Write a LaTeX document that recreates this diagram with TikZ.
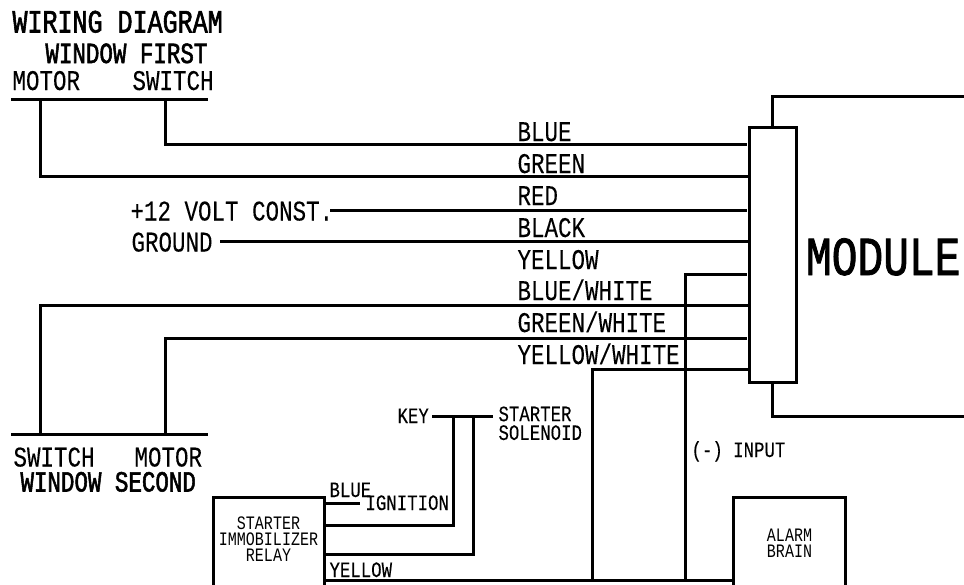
\documentclass[tikz,border=0pt]{standalone}
\usepackage{fontspec}
\usetikzlibrary{positioning}
\newfontfamily\wirefont[FakeStretch=0.79,FakeBold=0.15]{Liberation Mono}
\newfontfamily\tinyfont[FakeStretch=0.79]{Liberation Mono}
\newfontfamily\wirebold[FakeStretch=0.77,FakeBold=1.8]{Liberation Mono}
\newfontfamily\modfont[FakeStretch=0.78,FakeBold=1.4]{Liberation Mono}

\begin{document}
\begin{tikzpicture}[
            x = 1pt,
            y = -1pt,
            line width = 3pt, % wire weight
            line cap = butt,
            inner sep = 0pt
        ]

        \tikzstyle{lbl}=[
            anchor = base west,
            font = \wirefont\fontsize{28.5}{30}\selectfont
        ]
        \tikzstyle{small}=[
            anchor = base west,
            font = \wirefont\fontsize{22}{24}\selectfont
        ]
        \tikzstyle{title}=[
            anchor = base west,
            font = \wirebold\fontsize{29.2}{30}\selectfont
        ]
        \tikzstyle{tiny}=[
            align = center,
            font = \tinyfont\fontsize{19}{16}\selectfont
        ]
        \tikzstyle{box}=[
            draw = black,
            fill = white,
            outer sep = 0pt,
            minimum width = 111pt
        ]
        \tikzstyle{gapwire}=[
            shorten > = 1.8pt % don't touch the plug
        ]

        \useasboundingbox (0,0) rectangle (964,584);

        % boxes
        \node[box, minimum width = 47pt, minimum height = 254.5pt] (plug) at (772.5,254.8) {};
        \node[box, minimum height = 90pt] (relay) at (268.5,542) {};
        \node[tiny] (relaytext) at (268.5,539.5) {STARTER\\IMMOBILIZER\\RELAY};
        \node[box, tiny, minimum width = 112pt, minimum height = 92pt] (brain) at (789.5,543) {ALARM\\BRAIN};

        % free ends
        \coordinate (modtop) at (966,96.5);
        \coordinate (modbot) at (966,416.5);
        \coordinate (firstL) at (11,99.5);
        \coordinate (firstR) at (208,99.5);
        \coordinate (secondL) at (11,434.5);
        \coordinate (secondR) at (208,434.5);
        \coordinate (firstM) at (40,99.5);
        \coordinate (firstS) at (165,99.5);
        \coordinate (secondS) at (40,434.5);
        \coordinate (secondM) at (165,434.5);
        \coordinate (keyL) at (432,416.5);
        \coordinate (keyR) at (493,416.5);
        \coordinate (keyA) at (453.5,416.5);
        \coordinate (keyB) at (473.5,416.5);
        \coordinate (wBlue) at (165,144.5);
        \coordinate (wGreen) at (40,176.5);
        \coordinate (wRed) at (330,210.5);
        \coordinate (wBlack) at (220,241.5);
        \coordinate (wYellow) at (685,274.5);
        \coordinate (wBlueW) at (40,305.5);
        \coordinate (wGreenW) at (165,338.5);
        \coordinate (wYellowW) at (592,369.5);
        \coordinate (bus) at (592.5,580.5);
        \coordinate (busB) at (685.5,580.5);
        \coordinate (stub) at (360,503.5);
        \coordinate (ign) at (324,525.5);
        \coordinate (sol) at (324,554.5);

        % module outline
        \draw (plug.north) |- (modtop);
        \draw (plug.south) |- (modbot);

        % wires to the plug
        \draw[gapwire] (firstS) |- (wBlue -| plug.west);
        \draw (firstM) |- (wGreen -| plug.west);
        \draw[gapwire] (wRed) -- (wRed -| plug.west);
        \draw (wBlack) -- (wBlack -| plug.west);
        \draw[gapwire] (busB) |- (wYellow -| plug.west);
        \draw (secondS) |- (wBlueW -| plug.west);
        \draw[gapwire] (secondM) |- (wGreenW -| plug.west);
        \draw (bus) |- (wYellowW -| plug.west);

        % starter side
        \draw (firstL) -- (firstR);
        \draw (secondL) -- (secondR);
        \draw (keyL) -- (keyR);
        \draw (ign) -| (keyA);
        \draw (sol) -| (keyB);
        \draw (stub -| relay.east) -- (stub);
        \draw (bus -| relay.east) -- (bus -| brain.west);

        % labels
        \node[title, font = \wirebold\fontsize{32.5}{33}\selectfont] (head) at (11,32.5) {WIRING DIAGRAM};
        \node[title] (first) at (44,63) {WINDOW FIRST};
        \node[lbl] (motorA) at (11,90) {MOTOR};
        \node[lbl] (switchA) at (131,90) {SWITCH};
        \node[lbl] (volt) at (129,220.5) {+12 VOLT CONST.};
        \node[lbl] (ground) at (130,251.5) {GROUND};
        \node[lbl] (switchB) at (12,466.5) {SWITCH};
        \node[lbl] (motorB) at (133,466.5) {MOTOR};
        \node[title] (second) at (19,491.5) {WINDOW SECOND};
        \node[lbl] (lBlue) at (516,141) {BLUE};
        \node[lbl] (lGreen) at (516,173) {GREEN};
        \node[lbl] (lRed) at (516,205) {RED};
        \node[lbl] (lBlack) at (516,237) {BLACK};
        \node[lbl] (lYellow) at (516,269) {YELLOW};
        \node[lbl] (lBlueW) at (516,300) {BLUE/WHITE};
        \node[lbl] (lGreenW) at (516,332) {GREEN/WHITE};
        \node[lbl] (lYellowW) at (516,364) {YELLOW/WHITE};
        \node[small] (key) at (396,423) {KEY};
        \node[small, font = \wirefont\fontsize{22}{18.7}\selectfont, align = left, anchor = north west] (solenoid) at (497,405) {STARTER\\SOLENOID};
        \node[small] (lStub) at (328,497) {BLUE};
        \node[small] (lIgn) at (364,510) {IGNITION};
        \node[small] (lBus) at (328,577) {YELLOW};
        \node[small] (input) at (690,457) {(-) INPUT};
        \node[anchor = base west, font = \modfont\fontsize{55}{57}\selectfont] (module) at (804.5,275) {MODULE};

    \end{tikzpicture}
\end{document}
